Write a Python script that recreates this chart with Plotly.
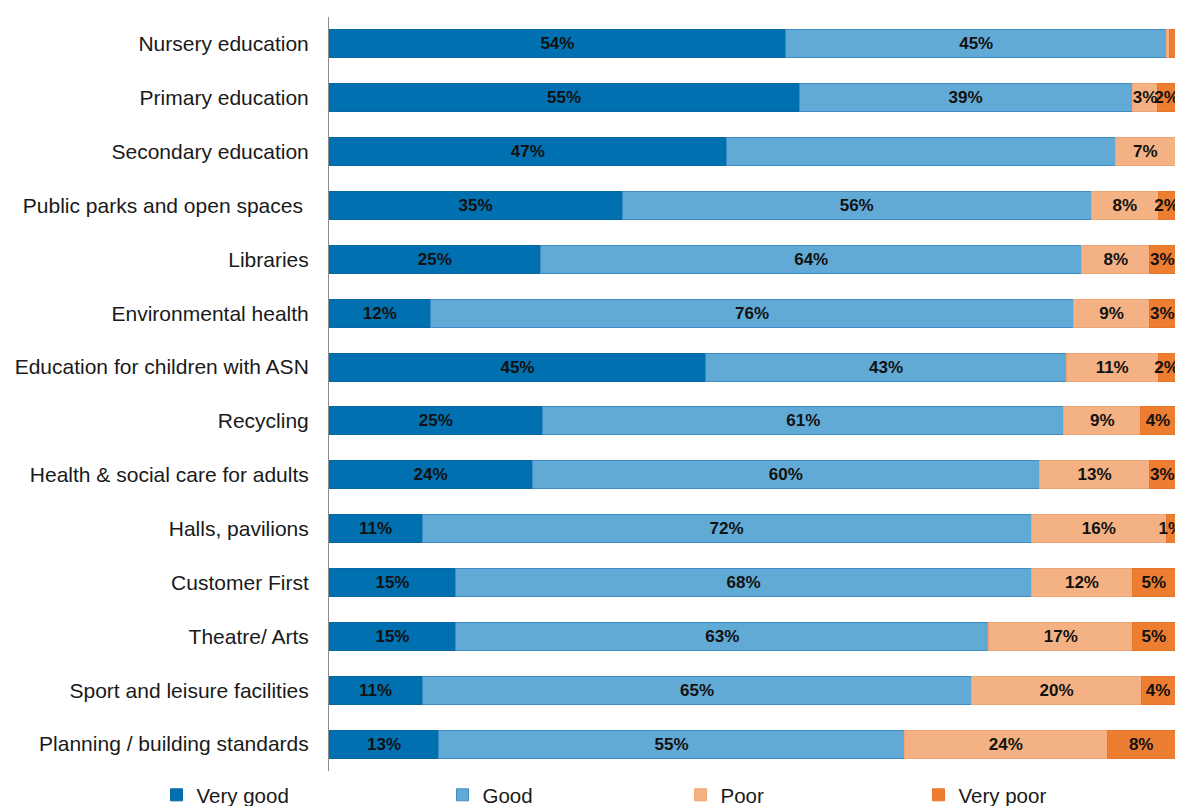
import plotly.graph_objects as go

# Service ratings, one row per service (top to bottom)
services = [
    "Nursery education",
    "Primary education",
    "Secondary education",
    "Public parks and open spaces\u00a0",
    "Libraries",
    "Environmental health",
    "Education for children with ASN",
    "Recycling",
    "Health & social care for adults",
    "Halls, pavilions",
    "Customer First",
    "Theatre/ Arts",
    "Sport and leisure facilities",
    "Planning / building standards",
]

very_good = [54, 55, 47, 35, 25, 12, 45, 25, 24, 11, 15, 15, 11, 13]
good = [45, 39, 46, 56, 64, 76, 43, 61, 60, 72, 68, 63, 65, 55]
poor = [0.4, 3, 7, 8, 8, 9, 11, 9, 13, 16, 12, 17, 20, 24]
very_poor = [0.6, 2, 0, 2, 3, 3, 2, 4, 3, 1, 5, 5, 4, 8]

# Segments that carry no printed label
unlabeled = {
    "Good": {"Secondary education"},
}

series = [
    ("Very good", very_good, "#0070B0", "#0866a3", "legend", 176.5),
    ("Good", good, "#62AAD6", "#3d8cc6", "legend2", 462.5),
    ("Poor", poor, "#F4B183", "#eea474", "legend3", 700.5),
    ("Very poor", very_poor, "#ED7D31", "#e7762a", "legend4", 938.5),
]

FONT = "Liberation Sans, Arial, sans-serif"
W, H = 1184, 806


def labels(name, values):
    out = []
    for svc, v in zip(services, values):
        if v < 1 or svc in unlabeled.get(name, set()):
            out.append("")
        else:
            out.append(f"{v:g}%")
    return out


fig = go.Figure()
for name, vals, color, edge, leg, _ in series:
    fig.add_trace(
        go.Bar(
            name=name,
            y=services,
            x=vals,
            orientation="h",
            marker=dict(color=color, line=dict(color=edge, width=1)),
            text=labels(name, vals),
            textposition="inside",
            insidetextanchor="middle",
            textangle=0,
            constraintext="none",
            textfont=dict(family=FONT, size=17, color="#111111", weight="bold"),
            hoverinfo="skip",
            showlegend=True,
            legend=leg,
        )
    )

# One legend per series so each entry sits at its own spot along the bottom
legend_layout = {}
for name, _, _, _, leg, sym_x in series:
    legend_layout[leg] = dict(
        orientation="h",
        xref="container",
        yref="container",
        x=(sym_x - 20) / W,
        xanchor="left",
        y=(H - 795) / H,
        yanchor="middle",
        font=dict(family=FONT, size=20.5, color="#1a1a1a"),
        bgcolor="rgba(0,0,0,0)",
        borderwidth=0,
    )

fig.update_layout(
    width=W,
    height=H,
    showlegend=True,
    margin=dict(l=329, r=9, t=17, b=35, autoexpand=False),
    barmode="stack",
    barnorm="percent",
    bargap=0.48,
    plot_bgcolor="white",
    paper_bgcolor="white",
    uniformtext=dict(minsize=17, mode="show"),
    font=dict(family=FONT),
    xaxis=dict(range=[0, 100], visible=False, fixedrange=True),
    yaxis=dict(
        autorange="reversed",
        showline=True,
        linecolor="#8c8c8c",
        linewidth=1,
        showgrid=False,
        ticks="",
        ticklabelstandoff=15,
        tickfont=dict(family=FONT, size=21, color="#1a1a1a"),
    ),
    **legend_layout,
)

fig.write_html("out.html")
